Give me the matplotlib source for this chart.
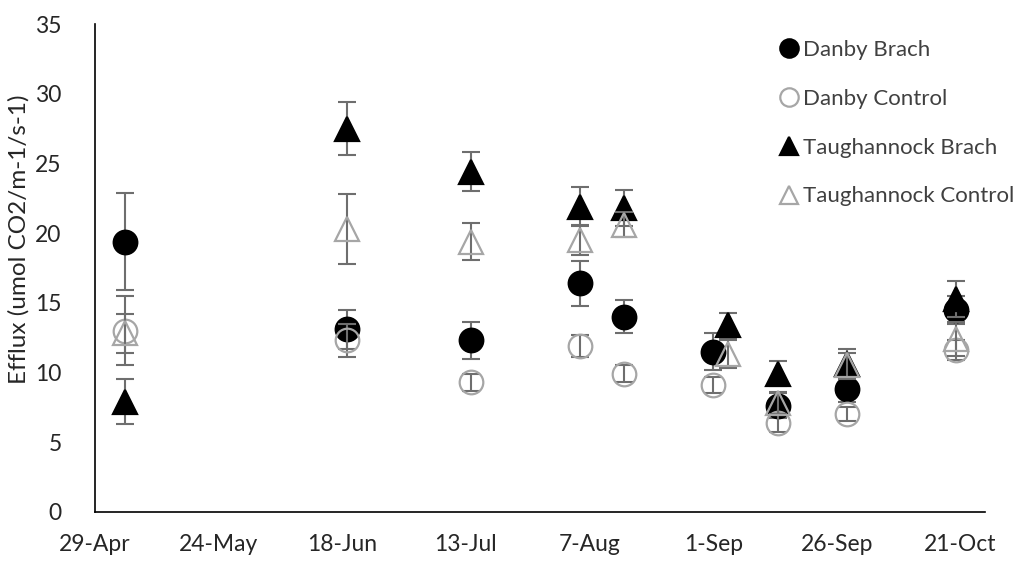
import matplotlib
matplotlib.use('Agg')
import matplotlib.pyplot as plt
import matplotlib.dates as mdates
import pandas as pd

# --- data ---
danby_dates = pd.to_datetime(['2019-05-05', '2019-06-19', '2019-07-14', '2019-08-05', '2019-08-14',
                              '2019-09-01', '2019-09-14', '2019-09-28', '2019-10-20'])
taugh_dates = pd.to_datetime(['2019-05-05', '2019-06-19', '2019-07-14', '2019-08-05', '2019-08-14',
                              '2019-09-04', '2019-09-14', '2019-09-28', '2019-10-20'])

danby_brach = [19.4, 13.1, 12.3, 16.4, 14.0, 11.5, 7.6, 8.8, 14.5]
danby_brach_err = [3.5, 1.4, 1.3, 1.6, 1.2, 1.3, 0.9, 0.9, 1.0]
danby_control = [13.0, 12.3, 9.3, 11.9, 9.9, 9.1, 6.35, 7.0, 11.6]
danby_control_err = [2.5, 1.2, 0.6, 0.8, 0.6, 0.6, 0.6, 0.5, 0.7]
taugh_brach = [7.9, 27.5, 24.4, 21.9, 21.8, 13.4, 9.9, 10.6, 15.3]
taugh_brach_err = [1.6, 1.9, 1.4, 1.4, 1.3, 0.9, 0.9, 1.1, 1.3]
taugh_control = [12.8, 20.3, 19.4, 19.5, 20.6, 11.3, 7.8, 10.5, 12.4]
taugh_control_err = [1.4, 2.5, 1.3, 1.1, 0.9, 1.0, 0.8, 0.9, 1.2]

tick_dates = pd.to_datetime(['2019-04-29', '2019-05-24', '2019-06-18', '2019-07-13',
                             '2019-08-07', '2019-09-01', '2019-09-26', '2019-10-21'])
x_min, x_max = pd.Timestamp('2019-04-29'), pd.Timestamp('2019-10-26')

plt.rcParams['font.family'] = 'Lato'

fig = plt.figure(figsize=(10.21, 5.63), dpi=100)
ax = fig.add_axes([0.093, 0.091, 0.872, 0.866])

err_color = '#6e6e6e'
open_color = '#a6a6a6'
text_color = '#262626'
ms = 17

series = [
    ('Danby Brach', danby_dates, danby_brach, danby_brach_err, 'o', 'black', 'black'),
    ('Danby Control', danby_dates, danby_control, danby_control_err, 'o', 'none', open_color),
    ('Taughannock Brach', taugh_dates, taugh_brach, taugh_brach_err, '^', 'black', 'black'),
    ('Taughannock Control', taugh_dates, taugh_control, taugh_control_err, '^', 'none', open_color),
]

z = 2
for label, dates, vals, errs, marker, face, edge in series:
    ax.errorbar(dates, vals, yerr=errs, fmt='none', ecolor=err_color, elinewidth=1.5,
                capsize=6.5, capthick=1.5, zorder=z)
    ax.plot(dates, vals, linestyle='none', marker=marker, markersize=ms,
            markerfacecolor=face, markeredgecolor=edge, markeredgewidth=1.6,
            label=label, zorder=z + 0.5)
    z += 1

ax.set_xlim(x_min, x_max)
ax.set_ylim(0, 35)
ax.set_yticks(range(0, 36, 5))
ax.set_xticks(tick_dates)
ax.xaxis.set_major_formatter(mdates.DateFormatter('%-d-%b'))
ax.tick_params(axis='both', length=0, labelsize=16.5, labelcolor=text_color)
ax.tick_params(axis='y', pad=24)
ax.tick_params(axis='x', pad=16)

for side in ['top', 'right']:
    ax.spines[side].set_visible(False)
for side in ['left', 'bottom']:
    ax.spines[side].set_linewidth(1.2)

fig.text(0.018, 0.575, 'Efflux (umol CO2/m-1/s-1)', rotation=90, ha='center', va='center',
         fontsize=17.5, color=text_color)

leg = ax.legend(loc='upper left', bbox_to_anchor=(0.754, 0.949), bbox_transform=fig.transFigure,
                frameon=False, fontsize=16, handlelength=0.7, handletextpad=0.3,
                labelspacing=1.3, borderpad=0, markerscale=0.78)
for t in leg.get_texts():
    t.set_color('#404040')

fig.savefig('out.png', dpi=100)
